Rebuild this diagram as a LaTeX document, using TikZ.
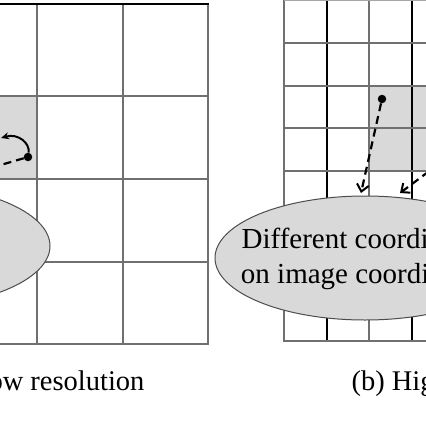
\documentclass[tikz,border=0pt]{standalone}
\usepackage{fontspec}
\setmainfont{Liberation Serif}
\usetikzlibrary{arrows.meta, shapes.geometric}
\definecolor{cellgray}{HTML}{D9D9D9}
\definecolor{linegray}{HTML}{707070}

\begin{document}
\begin{tikzpicture}[x=1pt, y=-1pt,
  gridline/.style = {draw=linegray, line width=1.9pt},
  darkline/.style = {draw=black, line width=1.5pt},
  blob/.style = {draw=black!70, fill=cellgray, ellipse, line width=1pt,
    minimum width=300pt, minimum height=124pt, inner sep=0pt},
  blobtext/.style = {align=center, inner sep=0pt, font=\fontsize{29}{35}\selectfont},
  pin/.style = {circle, fill=black, inner sep=0pt, minimum size=8.5pt},
  dasharrow/.style = {dash pattern=on 8pt off 5pt, line width=2.2pt,
    -{Straight Barb[length=7pt, width=12pt, line width=2pt]}},
  caption/.style = {font=\fontsize{28.5}{34}\selectfont}]
\useasboundingbox (0,0) rectangle (426,426);
\clip (0,0) rectangle (426,426);

%% shaded cells
\fill[cellgray] (-48,96) rectangle (37,179);
\fill[cellgray] (369,86) rectangle (455,171);

%% low resolution grid
\foreach \x in {37,123,208} \draw[gridline] (\x,4) -- (\x,344);
\foreach \y in {96,179,262,344} \draw[gridline] (-48,\y) -- (209,\y);
\draw[darkline] (-48,4) -- (209,4);

%% high resolution grid
\foreach \x in {284,369} \draw[gridline] (\x,0) -- (\x,341);
\foreach \x in {327,412} \draw[darkline] (\x,-10) -- (\x,341);
\foreach \y in {43,86,128,171,213,256,299,341} \draw[gridline] (283,\y) -- (460,\y);
\draw[draw=black!35, line width=1.8pt] (284,0.5) -- (460,0.5);

%% ellipses
\node[blob] (loblob) at (-100,246) {};
\node[blob] (hiblob) at (365,258) {};
\node[blobtext] (hitext) at (365,259) {Different coordinates\\on image coordinates};

%% points
\node[pin] (lodot) at (28,157) {};
\node[pin] (hidot) at (382,99) {};
\coordinate (lotip) at (1,138);
\coordinate (lofar) at (-20,171);
\coordinate (hitipa) at (361,193);
\coordinate (hitipb) at (400,193);
\coordinate (hifar) at (460,148);

%%% connectors
\draw[line width=2pt, -{Stealth[length=8pt, width=7pt]}] (lodot) .. controls (30,143) and (18,133) .. (lotip);
\draw[line width=2.2pt, dash pattern=on 8pt off 5pt] (lodot) -- (lofar);
\draw[dasharrow] (hidot) -- (hitipa);
\draw[dasharrow] (hifar) -- (hitipb);

%% captions
\node[caption, anchor=base east] (capa) at (148,390) {(a) Low resolution};
\node[caption, anchor=base west] (capb) at (348,390) {(b) High resolution};

\end{tikzpicture}
\end{document}
